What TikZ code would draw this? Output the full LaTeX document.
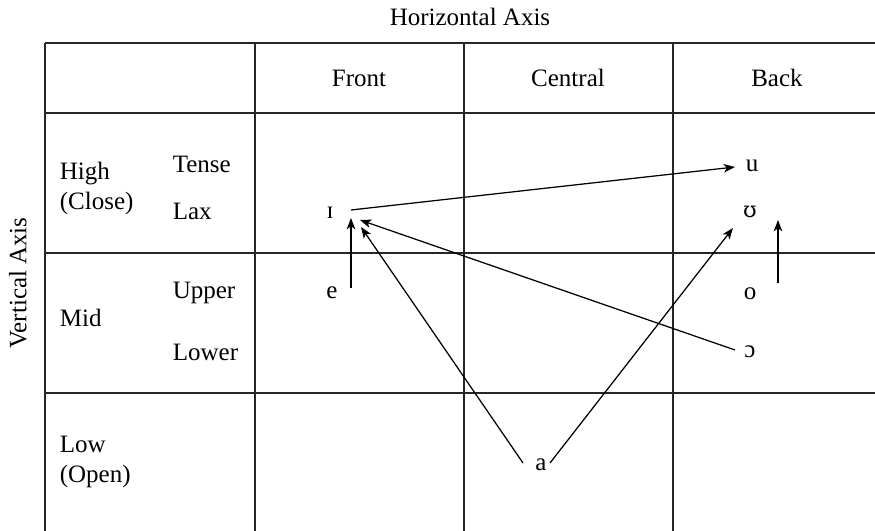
\documentclass[tikz,border=0pt]{standalone}
\usepackage{fontspec}
\setmainfont{Liberation Serif}
\newfontfamily\ipafont[Scale=0.88]{DejaVu Serif}
\usetikzlibrary{calc, arrows.meta}

\begin{document}
\begin{tikzpicture}[x=0.4pt, y=-0.4pt,
    grid/.style={line width=0.8pt, draw=black!85},
    vshift/.style={-{Stealth[length=4.5pt, width=3.4pt, inset=1.2pt]}, line width=0.5pt},
    vowel/.style={inner sep=1pt}]
    % Fix the page to the size of the reference
    \useasboundingbox (0,0) rectangle (875,531);

    % Draw the lines of the table (it runs off the right and bottom)
    \foreach \y in {43,113,253,393}
        \draw[grid] (45,\y) -- (875,\y);
    \foreach \x in {45,255,464,673}
        \draw[grid] (\x,43) -- (\x,531);

    % Axis titles
    \node (haxis) at (470,17) {Horizontal Axis};
    \node[rotate=90] (vaxis) at (18,283) {Vertical Axis};

    % Column heads
    \node (front) at (359,78) {Front};
    \node (central) at (568,78) {Central};
    \node (back) at (777,78) {Back};

    % Row heads
    \node[anchor=west, align=left] (high) at (51,188) {High\\(Close)};
    \node[anchor=west, align=left] (mid) at (51,318) {Mid};
    \node[anchor=west, align=left] (low) at (51,462) {Low\\(Open)};
    \node[anchor=west] (tense) at (164,164) {Tense};
    \node[anchor=west] (lax) at (164,211) {Lax};
    \node[anchor=west] (upper) at (164,293) {Upper};
    \node[anchor=west] (lower) at (164,352) {Lower};

    % The vowels
    \node[vowel] (ii) at (330,213) {ɪ};
    \node[vowel] (ee) at (332,293) {e};
    \node[vowel] (uu) at (752,166) {u};
    \node[vowel] (uh) at (750,212) {\ipafont ʊ};
    \node[vowel] (oo) at (750,294) {o};
    \node[vowel] (oh) at (750,352) {ɔ};
    \node[vowel] (aa) at (541,465) {a};

    % Arrows between the vowels
    \draw[vshift] ($(ii)+(21,-3)$) -- ($(uu)+(-17,1)$);
    \draw[vshift] ($(ee)+(19,-5)$) -- ($(ii)+(21,5)$);
    \draw[vshift] ($(oh)+(-15,-2)$) -- ($(ii)+(30,7)$);
    \draw[vshift] ($(aa)+(-18,-2)$) -- ($(ii)+(31,14)$);
    \draw[vshift] ($(aa)+(9,-2)$) -- ($(uh)+(-17,16)$);
    \draw[vshift] ($(oo)+(28,-11)$) -- ($(uh)+(28,8)$);

\end{tikzpicture}
\end{document}
